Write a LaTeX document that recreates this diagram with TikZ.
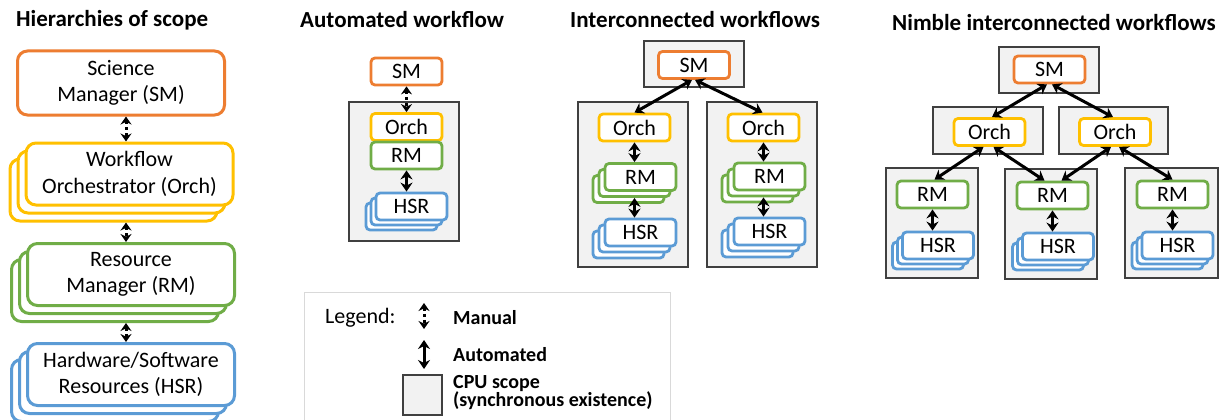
\documentclass[tikz,border=0pt]{standalone}
\usepackage{fontspec}
\setmainfont{Carlito}
\usetikzlibrary{arrows.meta}
\definecolor{cOrange}{RGB}{237,125,49}
\definecolor{cGold}{RGB}{255,192,0}
\definecolor{cGreen}{RGB}{112,173,71}
\definecolor{cBlue}{RGB}{91,155,213}
\definecolor{cpuFill}{RGB}{242,242,242}
\definecolor{cpuLine}{RGB}{64,64,64}
\definecolor{legLine}{RGB}{217,217,217}
\newcommand{\stackbox}[6]{%
  \node[#1] (#2-c) at ({#3-2*#5},{#4+2*#5}) {};
  \node[#1] (#2-b) at ({#3-#5},{#4+#5}) {};
  \node[#1] (#2) at (#3,#4) {#6};
}
\tikzset{
  big/.style={draw, fill=white, rounded corners=10pt, line width=3pt,
    minimum width=207pt, minimum height=62pt, inner sep=0pt, align=center,
    font=\fontsize{22}{26.5}\selectfont},
  small/.style={draw, fill=white, rounded corners=4pt, line width=2.8pt,
    minimum width=71pt, minimum height=27pt, inner sep=0pt,
    font=\fontsize{22}{26}\selectfont},
  cpu/.style={draw=cpuLine, fill=cpuFill, line width=1.5pt, inner sep=0pt},
  ttl/.style={anchor=west, inner sep=0pt, font=\fontsize{23}{27}\selectfont\bfseries},
  legtxt/.style={anchor=west, inner sep=0pt, align=left, font=\fontsize{20}{18}\selectfont\bfseries},
  autoarr/.style={line width=3pt, {Stealth[length=9pt,width=12pt]}-{Stealth[length=9pt,width=12pt]}},
  manarr/.style={line width=3pt, dash pattern=on 3pt off 3pt, {Stealth[length=8pt,width=11pt]}-{Stealth[length=8pt,width=11pt]}},
}
\begin{document}
\begin{tikzpicture}[x=1pt,y=-1pt]
\fill[white] (0,0) rectangle (1221,420);
\useasboundingbox (0,0) rectangle (1221,420);

% ---------- titles ----------
\node[ttl] (t1) at (16,20) {Hierarchies of scope};
\node[ttl] (t2) at (300,20) {Automated workflow};
\node[ttl] (t3) at (570,20) {Interconnected workflows};
\node[ttl] (t4) at (892,23) {Nimble interconnected workflows};

% ---------- hierarchies of scope ----------
\node[big, draw=cOrange, minimum height=64pt] (hSM) at (121,83) {Science\\Manager (SM)};
\stackbox{big, draw=cGold}{hOrch}{129.5}{174}{8}{Workflow\\Orchestrator (Orch)}
\stackbox{big, draw=cGreen}{hRM}{131}{274.5}{8}{Resource\\Manager (RM)}
\stackbox{big, draw=cBlue}{hHSR}{131}{374.5}{8}{Hardware/Software\\Resources (HSR)}
\coordinate (lx) at (126,0);
\draw[manarr] (lx |- hSM.south) -- (lx |- hOrch.north);
\draw[manarr] (lx |- hOrch-c.south) -- (lx |- hRM.north);
\draw[manarr] (lx |- hRM-c.south) -- (lx |- hHSR.north);

% ---------- automated workflow ----------
\node[cpu, minimum width=110pt, minimum height=139pt] (aCPU) at (404,171.5) {};
\node[small, draw=cOrange] (aSM) at (406.5,71.5) {SM};
\node[small, draw=cGold] (aOrch) at (406.5,127) {Orch};
\node[small, draw=cGreen] (aRM) at (406.5,155.5) {RM};
\stackbox{small, draw=cBlue}{aHSR}{411.5}{206.5}{5}{HSR}
\draw[manarr] (aSM.south) -- (aOrch.north);
\draw[autoarr] (aRM.south) -- (aRM.south |- aHSR.north);

% ---------- interconnected workflows ----------
\node[cpu, minimum width=100pt, minimum height=46pt] (iTop) at (694,64) {};
\node[cpu, minimum width=110pt, minimum height=165pt] (iL) at (633,184.5) {};
\node[cpu, minimum width=110pt, minimum height=165pt] (iR) at (762,184.5) {};
\node[small, draw=cOrange] (iSM) at (694,65) {SM};
\node[small, draw=cGold] (iOrchL) at (634.5,127.5) {Orch};
\node[small, draw=cGold] (iOrchR) at (763.5,127.5) {Orch};
\stackbox{small, draw=cGreen}{iRML}{640.5}{177}{6}{RM}
\stackbox{small, draw=cGreen}{iRMR}{769.5}{176.5}{6}{RM}
\stackbox{small, draw=cBlue}{iHSRL}{640.5}{232.5}{6}{HSR}
\stackbox{small, draw=cBlue}{iHSRR}{769.5}{231.5}{6}{HSR}
\draw[autoarr] ([xshift=-2pt]iSM.south) -- (iOrchL.north);
\draw[autoarr] ([xshift=1pt]iSM.south) -- ([xshift=-1pt]iOrchR.north);
\draw[autoarr] (iOrchL.south) -- (iOrchL.south |- iRML.north);
\draw[autoarr] (iOrchR.south) -- (iOrchR.south |- iRMR.north);
\draw[autoarr] (iRML-b.south) -- (iRML-b.south |- iHSRL.north);
\draw[autoarr] (iRMR-b.south) -- (iRMR-b.south |- iHSRR.north);

% ---------- nimble interconnected workflows ----------
\node[cpu, minimum width=100pt, minimum height=46pt] (nTop) at (1049,70) {};
\node[cpu, minimum width=110pt, minimum height=47pt] (nGL) at (988,130.5) {};
\node[cpu, minimum width=109pt, minimum height=47pt] (nGR) at (1113.5,130.5) {};
\node[cpu, minimum width=92pt, minimum height=110pt] (nB1) at (932,223) {};
\node[cpu, minimum width=92pt, minimum height=110pt] (nB2) at (1051,224) {};
\node[cpu, minimum width=93pt, minimum height=110pt] (nB3) at (1171.5,223) {};
\node[small, draw=cOrange] (nSM) at (1049.5,69.5) {SM};
\node[small, draw=cGold] (nOrchL) at (989.5,132) {Orch};
\node[small, draw=cGold] (nOrchR) at (1115,132) {Orch};
\node[small, draw=cGreen] (nRM1) at (932.5,194.5) {RM};
\node[small, draw=cGreen] (nRM2) at (1052.5,195.5) {RM};
\node[small, draw=cGreen] (nRM3) at (1172.5,194.5) {RM};
\stackbox{small, draw=cBlue}{nHSR1}{938}{245.5}{5}{HSR}
\stackbox{small, draw=cBlue}{nHSR2}{1058}{246.5}{5}{HSR}
\stackbox{small, draw=cBlue}{nHSR3}{1177.5}{245.5}{5}{HSR}
\draw[autoarr] ([xshift=-2.5pt]nSM.south) -- ([xshift=2.5pt]nOrchL.north);
\draw[autoarr] ([xshift=2.5pt]nSM.south) -- ([xshift=-2pt]nOrchR.north);
\draw[autoarr] ([xshift=-6pt]nOrchL.south) -- ([xshift=2pt]nRM1.north);
\draw[autoarr] ([xshift=4pt]nOrchL.south) -- ([xshift=-8pt]nRM2.north);
\draw[autoarr] ([xshift=-4pt]nOrchR.south) -- ([xshift=9pt]nRM2.north);
\draw[autoarr] ([xshift=4pt]nOrchR.south) -- (nRM3.north);
\draw[autoarr] (nRM1.south) -- (nRM1.south |- nHSR1.north);
\draw[autoarr] (nRM2.south) -- (nRM2.south |- nHSR2.north);
\draw[autoarr] (nRM3.south) -- (nRM3.south |- nHSR3.north);

% ---------- legend ----------
\draw[draw=legLine, line width=1pt, fill=white] (304,292) rectangle (670,423);
\node[anchor=west, inner sep=0pt, font=\fontsize{22}{26}\selectfont] (lgTitle) at (325,318) {Legend:};
\coordinate (m1) at (424,303);
\coordinate (m2) at (424,329);
\draw[manarr] (m1) -- (m2);
\node[legtxt] (lgMan) at (453,318) {Manual};
\coordinate (a1) at (424,340);
\coordinate (a2) at (424,369);
\draw[autoarr] (a1) -- (a2);
\node[legtxt] (lgAuto) at (453,355) {Automated};
\node[cpu, minimum width=39pt, minimum height=40pt] (lgCPU) at (422.5,395) {};
\node[legtxt] (lgCPUt) at (453,393) {CPU scope\\(synchronous existence)};
\end{tikzpicture}
\end{document}
